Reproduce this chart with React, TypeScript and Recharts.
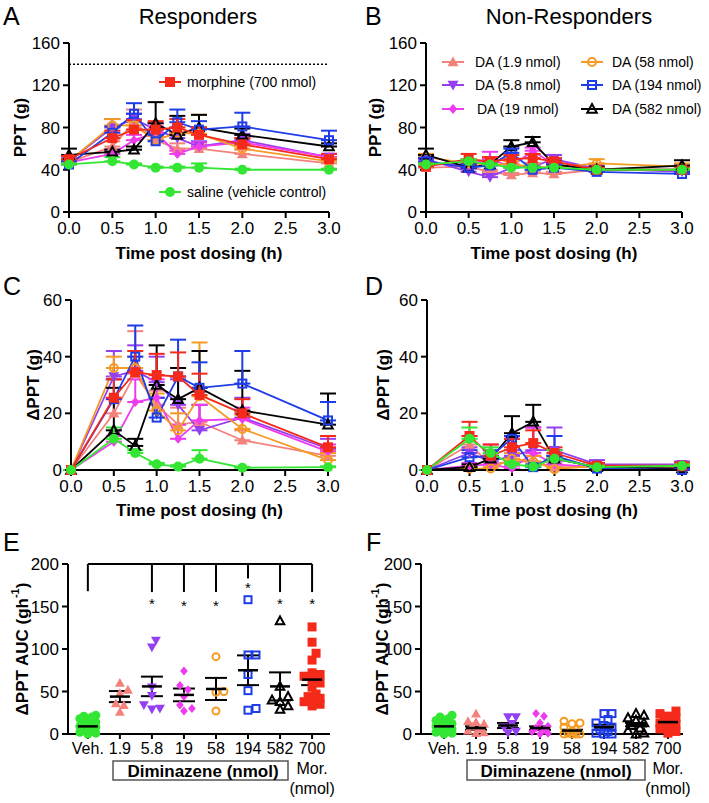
import React from 'react';
import { LineChart, Line, XAxis, YAxis, ErrorBar, ReferenceLine, ScatterChart, Scatter, Label } from 'recharts';

const FONT = '"Liberation Sans", Arial, Helvetica, sans-serif';

// ---------------- categories / ticks ----------------
const times = [0, 0.5, 0.75, 1, 1.25, 1.5, 2, 3];
const timeTicks = [0, 0.5, 1, 1.5, 2, 2.5, 3];
const pptTicks = [0, 40, 80, 120, 160];
const deltaTicks = [0, 20, 40, 60];
const aucTicks = [0, 50, 100, 150, 200];
const aucCategories = ['Veh.', '1.9', '5.8', '19', '58', '194', '582', '700'];
const morphineExtraLines = ['Mor.', '(nmol)'];
const cutoffPPT = 140;

// ---------------- Panel A: PPT (g), responders ----------------
const aD1_9 = [47, 62, 85, 68, 60, 60, 55, 46];
const aD1_9Err = [2, 5, 12, 5, 5, 4, 4, 3];
const aD5_8 = [48, 80, 88, 78, 70, 62, 68, 52];
const aD5_8Err = [3, 8, 5, 6, 5, 5, 6, 3];
const aD19 = [47, 55, 68, 75, 55, 62, 66, 52];
const aD19Err = [2, 4, 5, 6, 3, 4, 4, 3];
const aD58 = [48, 82, 82, 68, 75, 74, 60, 48];
const aD58Err = [2, 6, 4, 4, 5, 18, 4, 3];
const aD582 = [54, 57, 59, 84, 73, 80, 73, 62];
const aD582Err = [6, 2, 3, 20, 18, 12, 6, 3];
const aD194 = [45, 75, 93, 67, 85, 78, 81, 68];
const aD194Err = [3, 6, 10, 6, 12, 8, 13, 9];
const aMor = [50, 70, 78, 78, 80, 73, 64, 50];
const aMorErr = [3, 7, 9, 8, 8, 7, 6, 5];
const aSal = [45, 48, 45, 42, 42, 42, 40, 40];
const aSalErr = [1, 4, 1, 1, 1, 4, 1, 1];

// ---------------- Panel B: PPT (g), non-responders ----------------
const bD1_9 = [42, 43, 38, 35, 37, 36, 40, 40];
const bD1_9Err = [2, 2, 2, 2, 2, 2, 2, 2];
const bD5_8 = [50, 38, 33, 42, 43, 50, 41, 38];
const bD5_8Err = [3, 3, 3, 3, 3, 4, 3, 2];
const bD19 = [45, 45, 50, 43, 58, 45, 40, 40];
const bD19Err = [2, 3, 7, 2, 3, 2, 2, 2];
const bD58 = [52, 46, 45, 45, 43, 42, 46, 43];
const bD58Err = [3, 3, 3, 3, 3, 3, 4, 3];
const bD582 = [54, 42, 45, 62, 66, 45, 40, 44];
const bD582Err = [6, 3, 3, 6, 5, 3, 3, 5];
const bD194 = [48, 42, 44, 56, 40, 42, 38, 36];
const bD194Err = [3, 3, 3, 4, 3, 3, 2, 2];
const bMor = [43, 50, 48, 50, 51, 48, 40, 40];
const bMorErr = [3, 5, 4, 4, 4, 3, 2, 2];
const bSal = [45, 48, 45, 42, 42, 42, 40, 40];
const bSalErr = [1, 2, 1, 1, 1, 1, 1, 1];

// ---------------- Panel C: ΔPPT (g), responders ----------------
const cD1_9 = [0, 20, 34, 23, 16, 17, 10.5, 5];
const cD1_9Err = [0, 5, 15, 5, 6, 6, 3.5, 2];
const cD5_8 = [0, 33, 35, 31, 23, 14, 18.5, 7.5];
const cD5_8Err = [0, 9, 9, 9, 9, 9, 7, 3.5];
const cD19 = [0, 10, 24, 25.5, 11, 17.5, 18, 6.5];
const cD19Err = [0, 2, 8, 6.5, 5, 5.5, 4, 2.5];
const cD58 = [0, 36, 36, 21, 14, 26, 14.5, 3.5];
const cD58Err = [0, 4, 4, 6, 6, 19, 5, 2.5];
const cD582 = [0, 14, 8.5, 30, 25, 29, 21, 16];
const cD582Err = [0, 15, 2.5, 14, 11, 13, 14, 11];
const cD194 = [0, 25, 40, 18.5, 33, 29, 30.5, 17.5];
const cD194Err = [0, 7, 11, 7, 13, 9, 11.5, 6.5];
const cMor = [0, 25.5, 34.5, 33.5, 33, 26.5, 20, 8];
const cMorErr = [0, 6.5, 7.5, 7.5, 8.5, 7.5, 5, 4];
const cSal = [0, 11, 6, 2, 1.2, 4, 0.8, 1];
const cSalErr = [0, 4, 1, 0.5, 0.5, 3, 0.3, 0.3];

// ---------------- Panel D: ΔPPT (g), non-responders ----------------
const dD1_9 = [0, 9, 2, 3, 3, 1, 1, 1];
const dD1_9Err = [0, 3, 2, 2, 2, 1, 1, 1];
const dD5_8 = [0, 6, 3, 5, 7, 7, 2, 2];
const dD5_8Err = [0, 2, 1, 2, 8, 8, 1.5, 1];
const dD19 = [0, 1.5, 2, 0.5, 6, 2, 1, 1];
const dD19Err = [0, 1, 7, 1, 9, 1, 1, 1];
const dD58 = [0, 0.5, 0.5, 4, 3, 0.3, 1.5, 1];
const dD58Err = [0, 0.5, 0.5, 2, 2, 0.5, 0.5, 0.5];
const dD582 = [0, 1, 4, 13, 17, 4, 1, 0.5];
const dD582Err = [0, 1, 1, 6, 6, 1, 0.5, 0.5];
const dD194 = [0, 4.5, 5, 11, 1, 5, 0.5, 0];
const dD194Err = [0, 2.5, 2, 1, 1, 7, 0.5, 0.5];
const dMor = [0, 12, 5, 8, 9.5, 6, 1.5, 1.5];
const dMorErr = [0, 5, 4, 3, 4.5, 2, 1, 1];
const dSal = [0, 11, 6, 2, 1.2, 4, 1, 1.5];
const dSalErr = [0, 4, 2, 0.5, 0.5, 3, 0.5, 0.5];

// ---------------- Panel E: ΔPPT AUC, responders ----------------
const eVeh = [22, 21, 20, 18, 16, 14, 12, 10, 9, 8, 6, 4, 3, 2, 1, 0];
const eD1_9 = [60, 52, 48, 36, 34, 26];
const eD5_8 = [110, 102, 55, 45, 34, 30, 29];
const eD19 = [74, 57, 52, 44, 34, 30, 27];
const eD58 = [91, 50, 49, 27];
const eD194 = [158, 93, 93, 70, 51, 30, 28];
const eD582 = [133, 56, 44, 40, 38, 33, 29];
const eMor = [126, 108, 95, 87, 72, 70, 68, 65, 60, 55, 47, 44, 42, 40, 38, 35, 33];
const eMeans = [9, 44, 56, 46, 53, 75, 56, 64];
const eSems = [1.5, 6.5, 11.5, 7.5, 13, 17.5, 16.5, 6.5];
const eBracketTop = 200;
const eBracketDrops = [168, null, 167, 167, 167, 183, 167, 167];
const eStarGroups = [2, 3, 4, 5, 6, 7];
const eStarLevels = [156, 154, 154, 175, 156, 157];

// ---------------- Panel F: ΔPPT AUC, non-responders ----------------
const fVeh = [22, 20, 18, 16, 14, 12, 11, 10, 9, 8, 6, 5, 3, 2, 1, 0];
const fD1_9 = [24, 15, 14, 12, 9, 6, 4, 2, 1];
const fD5_8 = [20, 20, 12, 8, 3, 1];
const fD19 = [24, 21, 13, 9, 7, 5, 3, 1, 0];
const fD58 = [15, 13, 12, 8, 5, 3, 1, 0, 0, 0, 0];
const fD194 = [24, 24, 17, 13, 10, 8, 5, 3, 1, 0, 0];
const fD582 = [24, 22, 19, 16, 13, 10, 7, 4, 1, 0];
const fMor = [27, 24, 21, 19, 17, 15, 13, 11, 9, 6, 3, 1];
const fMeans = [9, 7, 10, 7, 4, 8, 11, 14];
const fSems = [1.5, 2, 3, 2, 1, 3, 2, 2];

// ---------------- styles ----------------
type Shape = 'circle' | 'circleOpen' | 'square' | 'squareOpen' | 'triUp' | 'triDown' | 'triOpen' | 'diamond';
const SERIES: { key: string; name: string; color: string; shape: Shape }[] = [
  { key: 'd1_9', name: 'DA (1.9 nmol)', color: '#F4827C', shape: 'triUp' },
  { key: 'd5_8', name: 'DA (5.8 nmol)', color: '#9440F0', shape: 'triDown' },
  { key: 'd19', name: 'DA (19 nmol)', color: '#EE3BEE', shape: 'diamond' },
  { key: 'd58', name: 'DA (58 nmol)', color: '#F59A23', shape: 'circleOpen' },
  { key: 'd582', name: 'DA (582 nmol)', color: '#000000', shape: 'triOpen' },
  { key: 'd194', name: 'DA (194 nmol)', color: '#1E3CE8', shape: 'squareOpen' },
  { key: 'mor', name: 'morphine (700 nmol)', color: '#F52A1A', shape: 'square' },
  { key: 'sal', name: 'saline (vehicle control)', color: '#33E633', shape: 'circle' },
];
const byKey = (k: string) => SERIES.find((s) => s.key === k)!;
// AUC group order -> series style
const aucGroupKeys = ['sal', 'd1_9', 'd5_8', 'd19', 'd58', 'd194', 'd582', 'mor'];

function Marker({ shape, color, cx, cy, size }: any) {
  if (cx == null || cy == null || isNaN(cx) || isNaN(cy)) return <g />;
  const r = size / 2;
  const sw = 2;
  switch (shape as Shape) {
    case 'circle':
      return <circle cx={cx} cy={cy} r={r} fill={color} />;
    case 'circleOpen':
      return <circle cx={cx} cy={cy} r={r - 1} fill="none" stroke={color} strokeWidth={sw} />;
    case 'square':
      return <rect x={cx - r} y={cy - r} width={size} height={size} fill={color} />;
    case 'squareOpen':
      return <rect x={cx - r + 1} y={cy - r + 1} width={size - 2} height={size - 2} fill="none" stroke={color} strokeWidth={sw} />;
    case 'triUp':
      return <polygon points={`${cx},${cy - r * 1.1} ${cx + r * 1.1},${cy + r * 0.85} ${cx - r * 1.1},${cy + r * 0.85}`} fill={color} />;
    case 'triDown':
      return <polygon points={`${cx},${cy + r * 1.1} ${cx + r * 1.1},${cy - r * 0.85} ${cx - r * 1.1},${cy - r * 0.85}`} fill={color} />;
    case 'triOpen':
      return <polygon points={`${cx},${cy - r} ${cx + r * 0.95},${cy + r * 0.75} ${cx - r * 0.95},${cy + r * 0.75}`} fill="none" stroke={color} strokeWidth={sw} strokeLinejoin="miter" />;
    case 'diamond':
      return <polygon points={`${cx},${cy - r} ${cx + r * 0.85},${cy} ${cx},${cy + r} ${cx - r * 0.85},${cy}`} fill={color} />;
  }
  return <g />;
}

type SeriesSet = Record<string, [number[], number[]]>;
function buildRows(set: SeriesSet) {
  return times.map((t, i) => {
    const row: any = { t };
    Object.keys(set).forEach((k) => {
      row[k] = set[k][0][i];
      row[k + 'Err'] = [0, set[k][1][i]];
    });
    return row;
  });
}

const rowsA = buildRows({ d1_9: [aD1_9, aD1_9Err], d5_8: [aD5_8, aD5_8Err], d19: [aD19, aD19Err], d58: [aD58, aD58Err], d582: [aD582, aD582Err], d194: [aD194, aD194Err], mor: [aMor, aMorErr], sal: [aSal, aSalErr] });
const rowsB = buildRows({ d1_9: [bD1_9, bD1_9Err], d5_8: [bD5_8, bD5_8Err], d19: [bD19, bD19Err], d58: [bD58, bD58Err], d582: [bD582, bD582Err], d194: [bD194, bD194Err], mor: [bMor, bMorErr], sal: [bSal, bSalErr] });
const rowsC = buildRows({ d1_9: [cD1_9, cD1_9Err], d5_8: [cD5_8, cD5_8Err], d19: [cD19, cD19Err], d58: [cD58, cD58Err], d582: [cD582, cD582Err], d194: [cD194, cD194Err], mor: [cMor, cMorErr], sal: [cSal, cSalErr] });
const rowsD = buildRows({ d1_9: [dD1_9, dD1_9Err], d5_8: [dD5_8, dD5_8Err], d19: [dD19, dD19Err], d58: [dD58, dD58Err], d582: [dD582, dD582Err], d194: [dD194, dD194Err], mor: [dMor, dMorErr], sal: [dSal, dSalErr] });

const axisLine = { stroke: '#000', strokeWidth: 2 };
const tickFont = { fontSize: 17, fill: '#000', fontFamily: FONT };

const xTitle = (text: string, x: number, y: number) => () => (
  <text x={x} y={y} textAnchor="middle" fill="#000" style={{ fontFamily: FONT, fontWeight: 700, fontSize: 17 }}>{text}</text>
);
const yTitle = (content: React.ReactNode, x: number, y: number) => () => (
  <text x={x} y={y} transform={`rotate(-90, ${x}, ${y})`} textAnchor="middle" dominantBaseline="central" fill="#000" style={{ fontFamily: FONT, fontWeight: 700, fontSize: 17 }}>{content}</text>
);

function TimeChart(props: any) {
  const { rows, width, height, margin, yWidth, xHeight, yDomain, yTicks, yLabel, yLabelX, xLabelY, extra } = props;
  const plotCx = yWidth + (width - yWidth - margin.right) / 2;
  const plotCy = margin.top + (height - margin.top - xHeight) / 2;
  return (
    <LineChart width={width} height={height} data={rows} margin={margin}>
      <XAxis dataKey="t" type="number" domain={[0, 3]} ticks={timeTicks} interval={0}
        tickFormatter={(v: number) => v.toFixed(1)} height={xHeight} axisLine={axisLine} tickLine={axisLine}
        tickSize={6} tickMargin={4} tick={tickFont}>
        <Label content={xTitle('Time post dosing (h)', plotCx, xLabelY)} />
      </XAxis>
      <YAxis type="number" domain={yDomain} ticks={yTicks} interval={0} width={yWidth}
        axisLine={axisLine} tickLine={axisLine} tickSize={6} tickMargin={3} tick={tickFont}>
        <Label content={yTitle(yLabel, yLabelX, plotCy)} />
      </YAxis>
      {extra}
      {SERIES.map((s) => (
        <Line key={s.key} dataKey={s.key} stroke={s.color} strokeWidth={1.8} isAnimationActive={false} activeDot={false}
          dot={(p: any) => (
            <g key={`${s.key}-${p.index}`}>
              <Marker shape={s.shape} color={s.color} cx={p.cx} cy={p.cy} size={10} />
            </g>
          )}>
          <ErrorBar dataKey={s.key + 'Err'} direction="y" width={8} stroke={s.color} strokeWidth={2} isAnimationActive={false} />
        </Line>
      ))}
    </LineChart>
  );
}

// ---------------- AUC scatter helpers ----------------
const CAT_PX = 32;
const VAL_PX = 170 / 200;
function swarmOffsets(values: number[], gap = 7, step = 4, maxPx = 11): number[] {
  const order = values.map((_, i) => i).sort((a, b) => values[a] - values[b]);
  const placed: { x: number; y: number }[] = [];
  const out: number[] = new Array(values.length).fill(0);
  for (const i of order) {
    const y = values[i] * VAL_PX;
    let best = 0;
    let bestD = -1;
    let found = false;
    for (let k = 0; k < 40; k++) {
      const cand = k === 0 ? 0 : (k % 2 === 1 ? 1 : -1) * Math.ceil(k / 2) * step;
      if (Math.abs(cand) > maxPx) continue;
      const d = placed.length ? Math.min(...placed.map((p) => Math.hypot(p.x - cand, p.y - y))) : 999;
      if (d >= gap) { best = cand; found = true; break; }
      if (d > bestD) { bestD = d; best = cand; }
    }
    if (!found && bestD < 0) best = 0;
    placed.push({ x: best, y });
    out[i] = best / CAT_PX;
  }
  return out;
}

function groupPoints(groups: number[][]) {
  return groups.map((vals, gi) => {
    const offs = swarmOffsets(vals);
    return vals.map((v, j) => ({ x: gi + offs[j], y: v }));
  });
}

const CatTick = (p: any) => {
  const { x, y, payload } = p;
  const i = payload.value as number;
  const lines = i === 7 ? [aucCategories[i], ...morphineExtraLines] : [aucCategories[i]];
  return (
    <text x={x} y={y} textAnchor="middle" fill="#000" style={{ fontFamily: FONT, fontSize: 16 }}>
      {lines.map((l, k) => (
        <tspan key={k} x={x} dy={k === 0 ? '0.71em' : 20}>{l}</tspan>
      ))}
    </text>
  );
};

const aucYLabel = (
  <>
    ΔPPT AUC (gh<tspan dy={-7} style={{ fontSize: 11 }}>-1</tspan><tspan dy={7}>)</tspan>
  </>
);

function AucChart(props: any) {
  const { groups, means, sems, width, height, margin, yWidth, xDomain, yLabelX, showBracket } = props;
  const plotCy = margin.top + (height - margin.top - 69) / 2;
  const pts = groupPoints(groups);
  const meanPts = means.map((m: number, i: number) => ({ x: i, y: m, e: sems[i] }));
  const starPts = eStarGroups.map((g, i) => ({ x: g, y: eStarLevels[i] }));
  return (
    <ScatterChart width={width} height={height} margin={margin}>
      <XAxis dataKey="x" type="number" domain={xDomain} ticks={[0, 1, 2, 3, 4, 5, 6, 7]} interval={0}
        height={69} axisLine={axisLine} tickLine={axisLine} tickSize={5} tickMargin={4}
        tick={(p: any) => <CatTick {...p} />} />
      <YAxis dataKey="y" type="number" domain={[0, 200]} ticks={aucTicks} interval={0} width={yWidth}
        axisLine={axisLine} tickLine={axisLine} tickSize={6} tickMargin={3} tick={tickFont}>
        <Label content={yTitle(aucYLabel, yLabelX, plotCy)} />
      </YAxis>
      {showBracket && (
        <ReferenceLine segment={[{ x: 0, y: eBracketTop }, { x: 7, y: eBracketTop }]} stroke="#000" strokeWidth={2} ifOverflow="visible" />
      )}
      {showBracket &&
        eBracketDrops.map((d, i) =>
          d == null ? null : (
            <ReferenceLine key={`drop-${i}`} segment={[{ x: i, y: eBracketTop }, { x: i, y: d }]} stroke="#000" strokeWidth={2} ifOverflow="visible" />
          )
        )}
      {pts.map((data, gi) => {
        const s = byKey(aucGroupKeys[gi]);
        return (
          <Scatter key={`g-${gi}`} data={data} isAnimationActive={false}
            shape={(p: any) => <Marker shape={s.shape} color={s.color} cx={p.cx} cy={p.cy} size={9} />} />
        );
      })}
      <Scatter data={meanPts} isAnimationActive={false}
        shape={(p: any) => <line x1={p.cx - 10} x2={p.cx + 10} y1={p.cy} y2={p.cy} stroke="#000" strokeWidth={2.5} />}>
        <ErrorBar dataKey="e" direction="y" width={11} stroke="#000" strokeWidth={2} isAnimationActive={false} />
      </Scatter>
      {showBracket && (
        <Scatter data={starPts} isAnimationActive={false}
          shape={(p: any) => (
            <text x={p.cx} y={p.cy + 8} textAnchor="middle" fill="#000" style={{ fontFamily: FONT, fontSize: 15 }}>*</text>
          )} />
      )}
    </ScatterChart>
  );
}

function LegendItem({ s, x, y, textX }: any) {
  return (
    <g>
      <line x1={x - 11} x2={x + 11} y1={y} y2={y} stroke={s.color} strokeWidth={2} />
      <Marker shape={s.shape} color={s.color} cx={x} cy={y} size={10} />
      <text x={textX} y={y + 5} fill="#000" style={{ fontFamily: FONT, fontSize: 14 }}>{s.name}</text>
    </g>
  );
}

export default function App() {
  const abs = (left: number, top: number): React.CSSProperties => ({ position: 'absolute', left, top });
  return (
    <div style={{ position: 'absolute', left: 0, top: 0, width: 709, height: 803, background: '#fff', fontFamily: FONT, overflow: 'hidden' }}>
      <div style={abs(0, 0)}>
        <TimeChart rows={rowsA} width={350} height={270} margin={{ top: 43, right: 21, bottom: 0, left: 0 }}
          yWidth={69} xHeight={58} yDomain={[0, 160]} yTicks={pptTicks} yLabel="PPT (g)" yLabelX={20} xLabelY={259}
          extra={<ReferenceLine y={cutoffPPT} stroke="#000" strokeWidth={1.5} strokeDasharray="2 2" />} />
      </div>
      <div style={abs(350, 0)}>
        <TimeChart rows={rowsB} width={359} height={270} margin={{ top: 43, right: 27, bottom: 0, left: 0 }}
          yWidth={76} xHeight={58} yDomain={[0, 160]} yTicks={pptTicks} yLabel="PPT (g)" yLabelX={25} xLabelY={259} />
      </div>
      <div style={abs(0, 270)}>
        <TimeChart rows={rowsC} width={350} height={270} margin={{ top: 30, right: 22, bottom: 0, left: 0 }}
          yWidth={71} xHeight={70} yDomain={[0, 60]} yTicks={deltaTicks} yLabel="ΔPPT (g)" yLabelX={33} xLabelY={246} />
      </div>
      <div style={abs(350, 270)}>
        <TimeChart rows={rowsD} width={359} height={270} margin={{ top: 30, right: 27, bottom: 0, left: 0 }}
          yWidth={77} xHeight={70} yDomain={[0, 60]} yTicks={deltaTicks} yLabel="ΔPPT (g)" yLabelX={33} xLabelY={246} />
      </div>
      <div style={abs(0, 540)}>
        <AucChart groups={[eVeh, eD1_9, eD5_8, eD19, eD58, eD194, eD582, eMor]} means={eMeans} sems={eSems}
          width={350} height={263} margin={{ top: 24, right: 20, bottom: 0, left: 0 }} yWidth={68}
          xDomain={[-0.62, 7.56]} yLabelX={22} showBracket />
      </div>
      <div style={abs(350, 540)}>
        <AucChart groups={[fVeh, fD1_9, fD5_8, fD19, fD58, fD194, fD582, fMor]} means={fMeans} sems={fSems}
          width={359} height={263} margin={{ top: 24, right: 26, bottom: 0, left: 0 }} yWidth={71}
          xDomain={[-0.72, 7.47]} yLabelX={32} showBracket={false} />
      </div>

      <svg width={709} height={803} style={{ position: 'absolute', left: 0, top: 0, pointerEvents: 'none' }}>
        <g style={{ fontFamily: FONT, fontSize: 25 }} fill="#000">
          <text x={3} y={25}>A</text>
          <text x={365} y={25}>B</text>
          <text x={3} y={295}>C</text>
          <text x={365} y={295}>D</text>
          <text x={3} y={551}>E</text>
          <text x={366} y={551}>F</text>
        </g>
        <g style={{ fontFamily: FONT, fontSize: 22 }} fill="#000">
          <text x={198} y={24} textAnchor="middle">Responders</text>
          <text x={569} y={24} textAnchor="middle">Non-Responders</text>
        </g>
        <LegendItem s={byKey('mor')} x={170} y={82} textX={187} />
        <LegendItem s={byKey('sal')} x={170} y={192} textX={187} />
        <LegendItem s={byKey('d1_9')} x={453} y={62} textX={475} />
        <LegendItem s={byKey('d5_8')} x={453} y={85} textX={475} />
        <LegendItem s={byKey('d19')} x={453} y={109} textX={477} />
        <LegendItem s={byKey('d58')} x={592} y={62} textX={612} />
        <LegendItem s={byKey('d194')} x={592} y={85} textX={612} />
        <LegendItem s={byKey('d582')} x={592} y={109} textX={612} />
        <rect x={113} y={761} width={175} height={19} fill="none" stroke="#555" strokeWidth={1.5} />
        <text x={203} y={777} textAnchor="middle" fill="#000" style={{ fontFamily: FONT, fontSize: 17, fontWeight: 700 }}>Diminazene (nmol)</text>
        <rect x={467} y={760} width={178} height={20} fill="none" stroke="#555" strokeWidth={1.5} />
        <text x={556} y={777} textAnchor="middle" fill="#000" style={{ fontFamily: FONT, fontSize: 17, fontWeight: 700 }}>Diminazene (nmol)</text>
      </svg>
    </div>
  );
}
